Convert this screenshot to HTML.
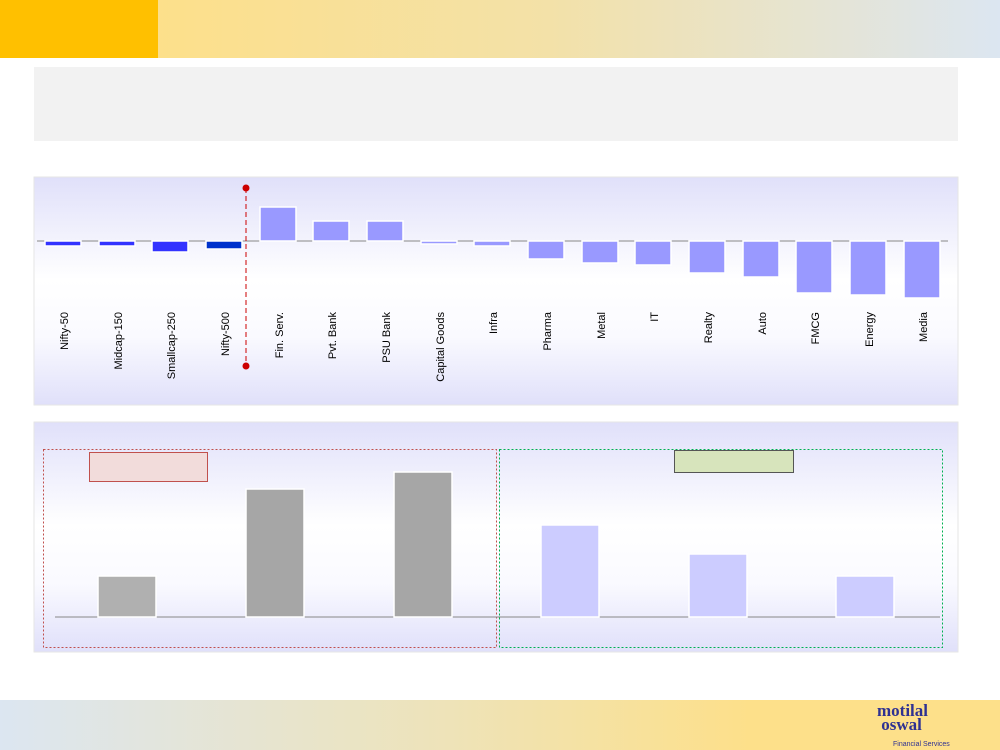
<!DOCTYPE html>
<html><head><meta charset="utf-8"><style>
body{margin:0;width:1000px;height:750px;position:relative;background:#fff;font-family:"Liberation Sans",sans-serif;overflow:hidden}
.a{position:absolute}
</style></head><body>
<div class="a" style="left:0;top:0;width:1000px;height:58px;background:linear-gradient(90deg,#fde08a 15%,#f3e1a8 55%,#dce6f1 100%)"></div>
<div class="a" style="left:0;top:0;width:158px;height:58px;background:#ffc000"></div>
<div class="a" style="left:34px;top:67px;width:924px;height:74px;background:#f2f2f2"></div>
<div class="a" style="left:0;top:700px;width:1000px;height:50px;background:linear-gradient(90deg,#dce6f1 0%,#eee3b8 45%,#fde08a 75%,#fde08a 100%)"></div>
<div class="a" style="left:877px;top:704px;font-family:'Liberation Serif',serif;font-weight:bold;color:#2e3192;font-size:17px;line-height:14px">motilal<br>&nbsp;oswal</div>
<div class="a" style="left:893px;top:741px;font-size:7px;color:#2e3192">Financial Services</div>
<svg class="a" style="left:0;top:0" width="1000" height="750">
<defs>
<linearGradient id="g" x1="0" y1="0" x2="0" y2="1"><stop offset="0" stop-color="#e0e0fa"/><stop offset="0.45" stop-color="#ffffff"/><stop offset="0.7" stop-color="#fafaff"/><stop offset="1" stop-color="#e0e0fa"/></linearGradient>
</defs>
<rect x="34" y="177" width="924" height="228" fill="url(#g)" stroke="#e6e6e6"/>
<rect x="34" y="422" width="924" height="230" fill="url(#g)" stroke="#e6e6e6"/>
<line x1="37" y1="241" x2="948" y2="241" stroke="#888"/>
<g stroke="#fff" stroke-width="1.5">
<rect x="45" y="241" width="36" height="5" fill="#3333ff"/>
<rect x="99" y="241" width="36" height="5" fill="#3333ff"/>
<rect x="152" y="241" width="36" height="11" fill="#3333ff"/>
<rect x="206" y="241" width="36" height="8" fill="#0033cc"/>
<rect x="260" y="207" width="36" height="34" fill="#9999ff"/>
<rect x="313" y="221" width="36" height="20" fill="#9999ff"/>
<rect x="367" y="221" width="36" height="20" fill="#9999ff"/>
<rect x="421" y="241" width="36" height="3" fill="#9999ff"/>
<rect x="474" y="241" width="36" height="5" fill="#9999ff"/>
<rect x="528" y="241" width="36" height="18" fill="#9999ff"/>
<rect x="582" y="241" width="36" height="22" fill="#9999ff"/>
<rect x="635" y="241" width="36" height="24" fill="#9999ff"/>
<rect x="689" y="241" width="36" height="32" fill="#9999ff"/>
<rect x="743" y="241" width="36" height="36" fill="#9999ff"/>
<rect x="796" y="241" width="36" height="52" fill="#9999ff"/>
<rect x="850" y="241" width="36" height="54" fill="#9999ff"/>
<rect x="904" y="241" width="36" height="57" fill="#9999ff"/>
</g>
<line x1="246" y1="188" x2="246" y2="366" stroke="#c00" stroke-dasharray="5,3"/>
<circle cx="246" cy="188" r="3.5" fill="#c00"/><circle cx="246" cy="366" r="3.5" fill="#c00"/>
<g font-size="11" fill="#000" text-anchor="end">
<text transform="translate(68,312) rotate(-90)">Nifty-50</text>
<text transform="translate(122,312) rotate(-90)">Midcap-150</text>
<text transform="translate(175,312) rotate(-90)">Smallcap-250</text>
<text transform="translate(229,312) rotate(-90)">Nifty-500</text>
<text transform="translate(283,312) rotate(-90)">Fin. Serv.</text>
<text transform="translate(336,312) rotate(-90)">Pvt. Bank</text>
<text transform="translate(390,312) rotate(-90)">PSU Bank</text>
<text transform="translate(444,312) rotate(-90)">Capital Goods</text>
<text transform="translate(497,312) rotate(-90)">Infra</text>
<text transform="translate(551,312) rotate(-90)">Pharma</text>
<text transform="translate(605,312) rotate(-90)">Metal</text>
<text transform="translate(658,312) rotate(-90)">IT</text>
<text transform="translate(712,312) rotate(-90)">Realty</text>
<text transform="translate(766,312) rotate(-90)">Auto</text>
<text transform="translate(819,312) rotate(-90)">FMCG</text>
<text transform="translate(873,312) rotate(-90)">Energy</text>
<text transform="translate(927,312) rotate(-90)">Media</text>
</g>
<rect x="43.5" y="449.5" width="453" height="198" fill="none" stroke="#c0504d" stroke-dasharray="2,2"/>
<rect x="499.5" y="449.5" width="443" height="198" fill="none" stroke="#00b050" stroke-dasharray="2,2"/>
<line x1="55" y1="617" x2="940" y2="617" stroke="#888"/>
<g stroke="#fff" stroke-width="1.5">
<rect x="98" y="576" width="58" height="41" fill="#b0b0b0"/>
<rect x="246" y="489" width="58" height="128" fill="#a6a6a6"/>
<rect x="394" y="472" width="58" height="145" fill="#a6a6a6"/>
<rect x="541" y="525" width="58" height="92" fill="#ccccff"/>
<rect x="689" y="554" width="58" height="63" fill="#ccccff"/>
<rect x="836" y="576" width="58" height="41" fill="#ccccff"/>
</g>
<rect x="89.5" y="452.5" width="118" height="29" fill="#f2dcdb" stroke="#c0504d"/>
<rect x="674.5" y="450.5" width="119" height="22" fill="#d7e4bc" stroke="#555"/>
</svg>
</body></html>
